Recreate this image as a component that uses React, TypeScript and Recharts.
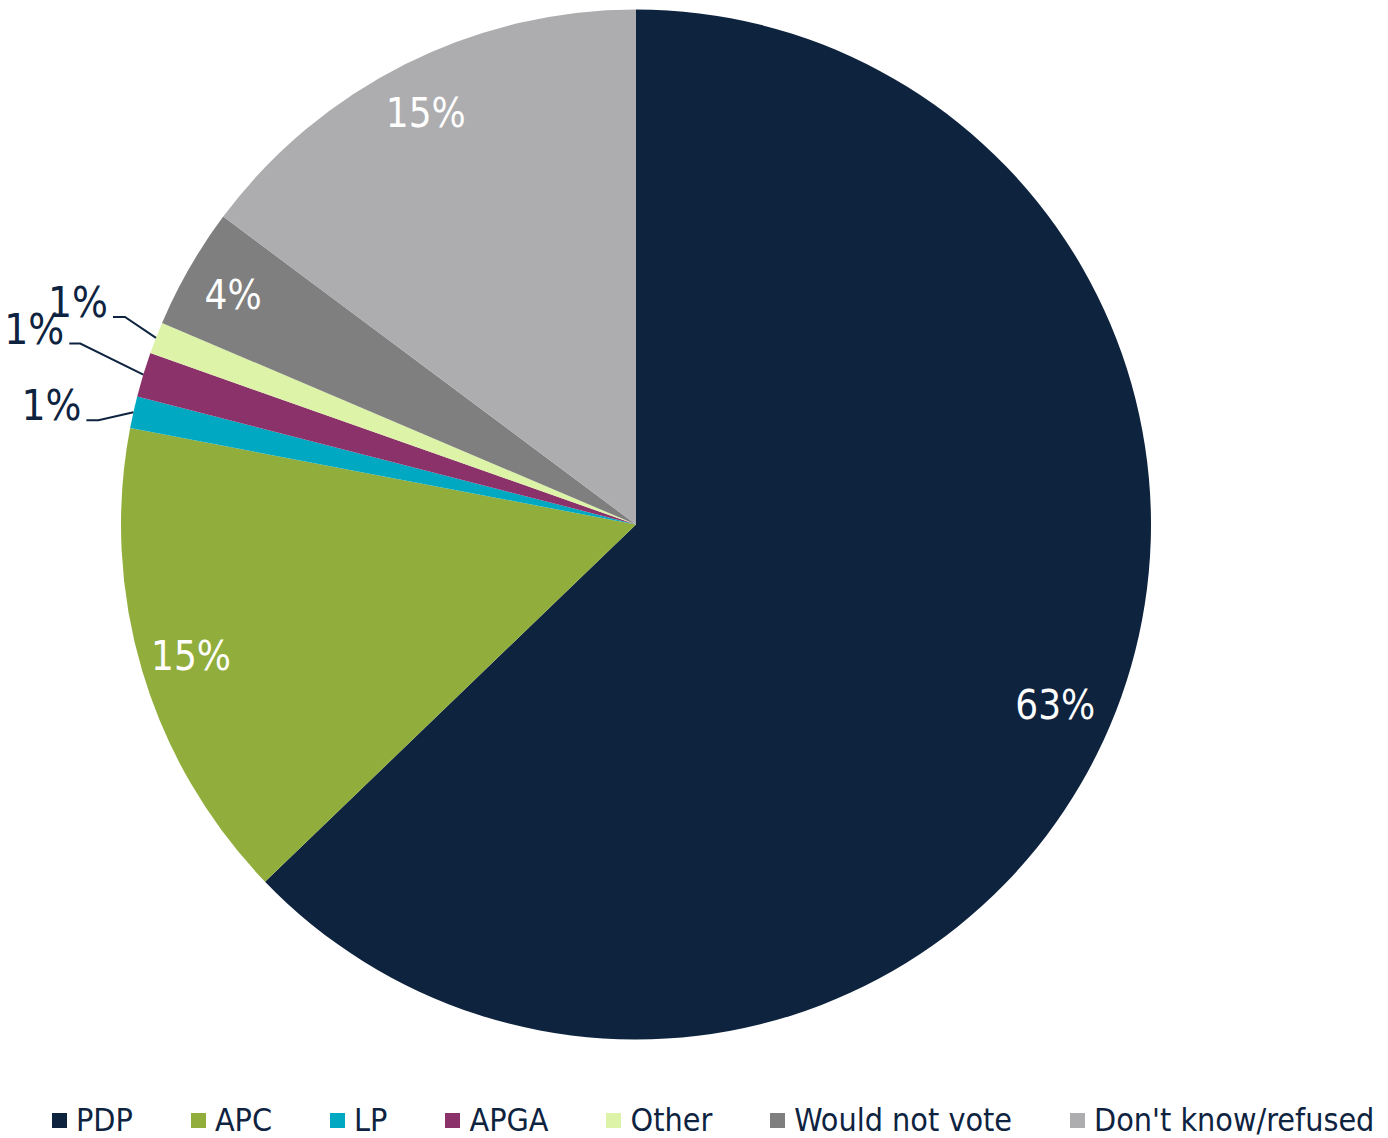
import React from "react";
import { PieChart, Pie, Cell, Legend } from "recharts";

// vote intention shares (%), clockwise from 12 o'clock
const parties = ["PDP", "APC", "LP", "APGA", "Other", "Would not vote", "Don't know/refused"];
const shares = [62.8, 15.2, 1.0, 1.4, 1.0, 3.8, 14.8];
const sliceColors = ["#0e233e", "#91ae3d", "#00a8c1", "#8c326b", "#dcf3a8", "#7f7f7f", "#adadaf"];

const data = parties.map((name, i) => ({ name, value: shares[i] }));

const FONT = "'DejaVu Sans Condensed', 'DejaVu Sans', sans-serif";
const NAVY = "#0e2340";
const RAD = Math.PI / 180;

// manual leader-line placement for the tiny slices (offset from slice edge to elbow, then horizontal run)
const leaderFor: Record<string, { dx: number; dy: number; run: number }> = {
  LP: { dx: -35, dy: 8, run: 12 },
  APGA: { dx: -63, dy: -31, run: 11 },
  Other: { dx: -31, dy: -21, run: 12 },
};

const renderLabel = (props: any) => {
  const { cx, cy, midAngle, outerRadius, value, name } = props;
  const txt = `${Math.round(value)}%`;
  const cos = Math.cos(-midAngle * RAD);
  const sin = Math.sin(-midAngle * RAD);
  const lead = leaderFor[name];
  if (!lead) {
    const r = outerRadius - 55;
    return (
      <text x={cx + r * cos - 4} y={cy + r * sin} fill="#ffffff" textAnchor="middle" dominantBaseline="central"
        fontFamily={FONT} fontSize={40}>
        {txt}
      </text>
    );
  }
  const ex = cx + outerRadius * cos;
  const ey = cy + outerRadius * sin;
  const kx = ex + lead.dx;
  const ky = ey + lead.dy;
  const sx = kx - lead.run;
  return (
    <g>
      <polyline points={`${ex},${ey} ${kx},${ky} ${sx},${ky}`} fill="none" stroke={NAVY} strokeWidth={2} />
      <text x={sx - 5} y={ky} fill={NAVY} textAnchor="end" fontFamily={FONT} fontSize={42}>
        {txt}
      </text>
    </g>
  );
};

// legend kept in slice order (recharts would sort it otherwise)
const renderLegend = () => (
  <div style={{ display: "flex", alignItems: "center", paddingLeft: 52, fontFamily: FONT, fontSize: 32, color: NAVY, whiteSpace: "nowrap", width: "max-content" }}>
    {parties.map((p, i) => (
      <div key={p} style={{ display: "flex", alignItems: "center", marginRight: 58, flexShrink: 0 }}>
        <span style={{ display: "inline-block", width: 15, height: 15, background: sliceColors[i], marginRight: 9 }} />
        <span>{p}</span>
      </div>
    ))}
  </div>
);

export default function App() {
  return (
    <div style={{ position: "absolute", left: 0, top: 0, background: "#fff" }}>
      <PieChart width={1388} height={1138} margin={{ top: 0, right: 0, bottom: 0, left: 0 }}>
        <Pie
          data={data}
          dataKey="value"
          nameKey="name"
          cx={636}
          cy={524.5}
          outerRadius={515}
          startAngle={90}
          endAngle={-270}
          stroke="none"
          label={renderLabel}
          labelLine={false}
          isAnimationActive={false}
        >
          {data.map((d, i) => (
            <Cell key={d.name} fill={sliceColors[i]} />
          ))}
        </Pie>
        <Legend content={renderLegend} wrapperStyle={{ top: 1101, left: 0, width: 1388, bottom: "auto" }} />
      </PieChart>
    </div>
  );
}
